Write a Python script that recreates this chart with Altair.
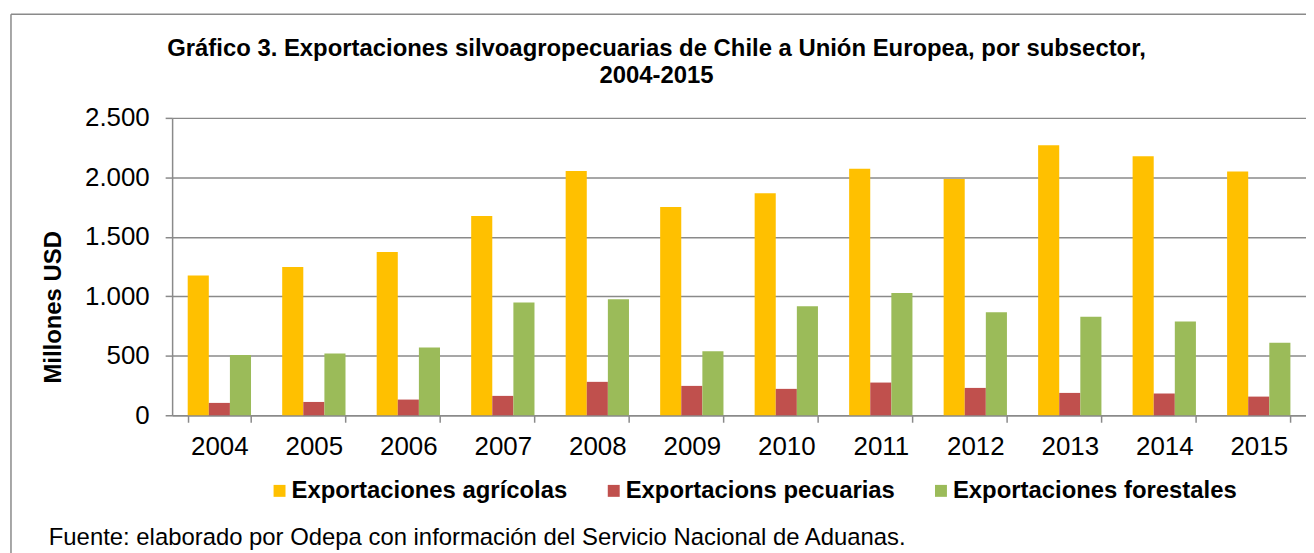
import altair as alt
import pandas as pd

years = ["2004", "2005", "2006", "2007", "2008", "2009", "2010", "2011", "2012", "2013", "2014", "2015"]
series = ["Exportaciones agrícolas", "Exportacions pecuarias", "Exportaciones forestales"]
agricolas = [1175, 1247, 1372, 1675, 2053, 1750, 1867, 2072, 1986, 2269, 2178, 2050]
pecuarias = [104, 112, 132, 163, 281, 247, 222, 275, 230, 188, 183, 157]
forestales = [506, 520, 570, 947, 975, 539, 916, 1028, 865, 829, 789, 610]
colors = ["#FFC000", "#C0504D", "#9BBB59"]
y_ticks = [0, 500, 1000, 1500, 2000, 2500]
title_lines = [
    "Gráfico 3. Exportaciones silvoagropecuarias de Chile a Unión Europea, por subsector,",
    "2004-2015",
]
source_text = "Fuente: elaborado por Odepa con información del Servicio Nacional de Aduanas."

rows = []
for i, y in enumerate(years):
    for s, vals in zip(series, [agricolas, pecuarias, forestales]):
        rows.append({"year": y, "serie": s, "valor": vals[i], "orden": series.index(s)})
df = pd.DataFrame(rows)

FONT = "Liberation Sans"
GRAY = "#8a8a8a"
W, H = 1140, 299

bars = alt.Chart(df).mark_bar().encode(
    x=alt.X("year:N", sort=years,
            scale=alt.Scale(paddingInner=0.33, paddingOuter=0.165),
            axis=alt.Axis(title=None, labelAngle=0, labelFont=FONT, labelFontSize=26,
                          labelColor="black", labelPadding=11, tickSize=7, tickBand="extent",
                          tickColor=GRAY, tickWidth=1.5, domainColor=GRAY, domainWidth=1.5,
                          grid=False)),
    xOffset=alt.XOffset("serie:N", sort=series, scale=alt.Scale(domain=series)),
    y=alt.Y("valor:Q",
            scale=alt.Scale(domain=[0, 2500], nice=False),
            axis=alt.Axis(values=y_ticks, title="Millones USD",
                          labelExpr="replace(format(datum.value, ','), ',', '.')",
                          labelFont=FONT, labelFontSize=26, labelColor="black",
                          labelPadding=16, tickSize=7, tickColor=GRAY, tickWidth=1.5,
                          domainColor=GRAY, domainWidth=1.5,
                          gridColor=GRAY, gridWidth=1.5,
                          titleFont=FONT, titleFontSize=24, titleFontWeight="bold",
                          titleColor="black", titleAngle=270, titleAlign="center",
                          titleBaseline="middle", titleX=-119, titleY=190)),
    color=alt.Color("serie:N", sort=series,
                    scale=alt.Scale(domain=series, range=colors),
                    legend=alt.Legend(title=None, orient="none", direction="horizontal",
                                      legendX=96, legendY=363, symbolType="square",
                                      symbolSize=144, symbolStrokeWidth=0,
                                      labelFont=FONT, labelFontSize=24,
                                      labelFontWeight="bold", labelColor="black",
                                      labelOffset=0, columnPadding=34, labelLimit=500)),
    order=alt.Order("orden:Q"),
)

one = pd.DataFrame({"k": [0]})

title1 = alt.Chart(one).mark_text(font=FONT, fontSize=24, fontWeight="bold", align="center",
                                  baseline="alphabetic", color="black").encode(
    x=alt.value(652 - 165), y=alt.value(55 - 8 - 109), text=alt.value(title_lines[0]))
title2 = alt.Chart(one).mark_text(font=FONT, fontSize=24, fontWeight="bold", align="center",
                                  baseline="alphabetic", color="black").encode(
    x=alt.value(652 - 165), y=alt.value(82 - 8 - 109), text=alt.value(title_lines[1]))
source = alt.Chart(one).mark_text(font=FONT, fontSize=24, align="left",
                                  baseline="alphabetic", color="black").encode(
    x=alt.value(49 - 8 - 165), y=alt.value(546 - 8 - 109), text=alt.value(source_text))

frame_left = alt.Chart(one).mark_rule(color=GRAY, strokeWidth=1.5).encode(
    x=alt.value(11 - 8 - 165), y=alt.value(12.7 - 8 - 109), y2=alt.value(600))
frame_top = alt.Chart(one).mark_rule(color=GRAY, strokeWidth=1.5).encode(
    x=alt.value(11 - 8 - 165), x2=alt.value(1400), y=alt.value(12.7 - 8 - 109))

chart = alt.layer(bars, title1, title2, source, frame_left, frame_top).properties(
    width=W, height=H,
    autosize=alt.AutoSizeParams(type="none"),
    padding={"left": 165, "top": 109, "right": 0, "bottom": 137},
).configure_view(stroke=None).configure_scale(offsetBandPaddingInner=0)

chart.save("out.html", embed_options={"renderer": "svg", "actions": False})
